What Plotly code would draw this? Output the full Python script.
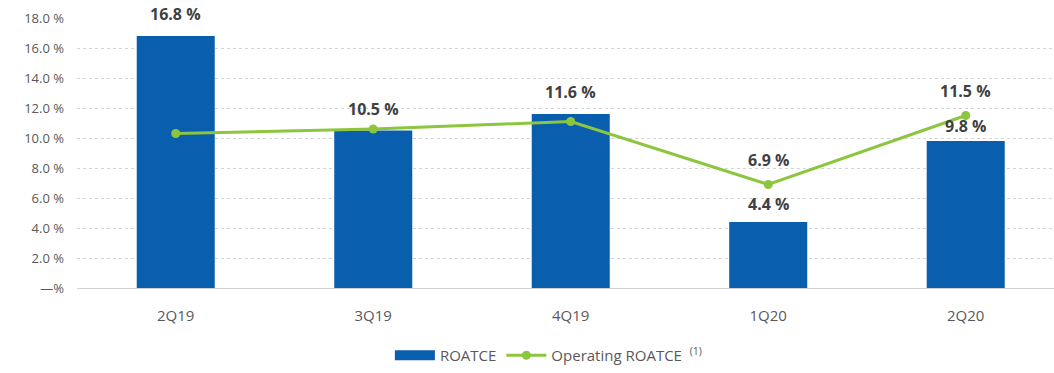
import plotly.graph_objects as go

categories = ["2Q19", "3Q19", "4Q19", "1Q20", "2Q20"]
roatce = [16.8, 10.5, 11.6, 4.4, 9.8]
operating_roatce = [10.3, 10.6, 11.1, 6.9, 11.5]
line_label_show = [False, False, False, True, True]
tick_vals = [0, 2, 4, 6, 8, 10, 12, 14, 16, 18]
tick_text = ["—%", "2.0 %", "4.0 %", "6.0 %", "8.0 %", "10.0 %", "12.0 %", "14.0 %", "16.0 %", "18.0 %"]

BLUE = "#0A5EAE"
GREEN = "#8CC63F"
FONT = "Open Sans, Liberation Sans, sans-serif"

fig = go.Figure()
fig.add_trace(go.Bar(
    x=categories, y=roatce, name="ROATCE", showlegend=False,
    marker=dict(color=BLUE, line=dict(width=0)), width=0.395,
))
# legend entry for bars drawn as a wide rectangle
fig.add_trace(go.Scatter(
    x=[None], y=[None], name="ROATCE", mode="lines",
    line=dict(color=BLUE, width=11),
))
fig.add_trace(go.Scatter(
    x=categories, y=operating_roatce, name="Operating ROATCE  <sup>(1)</sup>",
    mode="lines+markers", line=dict(color=GREEN, width=3),
    marker=dict(color=GREEN, size=9),
))

bar_shift = [9, 9, 9, 5, 2]
for c, v, s in zip(categories, roatce, bar_shift):
    fig.add_annotation(x=c, y=v, text=f"<b>{v:.1f} %</b>", showarrow=False,
                       yanchor="bottom", yshift=s,
                       font=dict(family=FONT, size=16, color="#404040"))
for c, v, show in zip(categories, operating_roatce, line_label_show):
    if show:
        fig.add_annotation(x=c, y=v, text=f"<b>{v:.1f} %</b>", showarrow=False,
                           yanchor="bottom", yshift=12,
                           font=dict(family=FONT, size=16, color="#404040"))

fig.update_layout(
    width=1054, height=373,
    margin=dict(l=77, r=0, t=18, b=85),
    paper_bgcolor="white", plot_bgcolor="white",
    font=dict(family=FONT, color="#595959", size=13),
    showlegend=True,
    legend=dict(orientation="h", x=0.483, xanchor="center", y=-0.25, yanchor="middle",
                font=dict(family=FONT, size=15, color="#595959"), itemwidth=40,
                tracegroupgap=0),
    bargap=0.6,
)
fig.update_xaxes(range=[-0.5, 4.447], showgrid=False, showline=True,
                 linecolor="#D0D0D0", linewidth=1, ticks="", ticklabelstandoff=14,
                 tickfont=dict(family=FONT, size=15, color="#595959"))
fig.update_yaxes(range=[0, 18], tickvals=tick_vals, ticktext=tick_text,
                 showgrid=True, gridcolor="#D4D4D4", griddash="dot", gridwidth=1,
                 zeroline=False, showline=False, ticks="", ticklabelstandoff=12,
                 tickfont=dict(family=FONT, size=13, color="#595959"))

fig.write_html("out.html")
